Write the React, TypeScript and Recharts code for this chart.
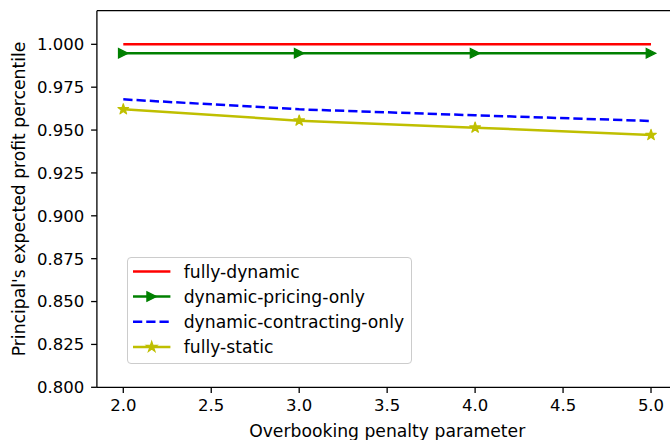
import { LineChart, Line, XAxis, YAxis, Legend, Label, ReferenceLine } from 'recharts'

// overbooking penalty values on the x axis
const penalties = [2, 3, 4, 5]

// principal's expected profit percentile for each policy
const fullyDynamic = [1.0, 1.0, 1.0, 1.0]
const dynamicPricingOnly = [0.9948, 0.9948, 0.9948, 0.9948]
const dynamicContractingOnly = [0.9679, 0.9621, 0.9586, 0.9553]
const fullyStatic = [0.9621, 0.9555, 0.9514, 0.9471]

const xTicks = [2, 2.5, 3, 3.5, 4, 4.5, 5]
const yTicks = [0.8, 0.825, 0.85, 0.875, 0.9, 0.925, 0.95, 0.975, 1.0]

const seriesNames = ['fully-dynamic', 'dynamic-pricing-only', 'dynamic-contracting-only', 'fully-static']

const data = penalties.map((p, i) => ({
  penalty: p,
  fullyDynamic: fullyDynamic[i],
  dynamicPricingOnly: dynamicPricingOnly[i],
  dynamicContractingOnly: dynamicContractingOnly[i],
  fullyStatic: fullyStatic[i],
}))

const Y_MAX = 1.0196
const FONT = "'DejaVu Sans', sans-serif"
const FS = 16.5
const FS_LABEL = 17.2
const RED = '#ff0000'
const GREEN = '#008000'
const BLUE = '#0000ff'
const YELLOW = '#bfbf00'

function triangle(cx: number, cy: number, r = 4.8) {
  return `${cx + r},${cy} ${cx - r},${cy - r} ${cx - r},${cy + r}`
}

function star(cx: number, cy: number, r = 5.6) {
  const inner = r * 0.382
  const pts: string[] = []
  for (let k = 0; k < 10; k++) {
    const rad = k % 2 === 0 ? r : inner
    const a = -Math.PI / 2 + (k * Math.PI) / 5
    pts.push(`${cx + rad * Math.cos(a)},${cy + rad * Math.sin(a)}`)
  }
  return pts.join(' ')
}

const TriangleDot = (props: any) => {
  const { cx, cy, index } = props
  if (cx == null || cy == null) return null
  return <polygon key={`tri-${index}`} points={triangle(cx, cy)} fill={GREEN} stroke={GREEN} strokeWidth={1.2} />
}

const StarDot = (props: any) => {
  const { cx, cy, index } = props
  if (cx == null || cy == null) return null
  return <polygon key={`star-${index}`} points={star(cx, cy)} fill={YELLOW} stroke={YELLOW} strokeWidth={1.2} strokeLinejoin="round" />
}

const LegendBox = () => {
  const rows = [
    { color: RED, dash: undefined, marker: null },
    { color: GREEN, dash: undefined, marker: 'tri' },
    { color: BLUE, dash: '9.25 4', marker: null },
    { color: YELLOW, dash: undefined, marker: 'star' },
  ]
  return (
    <div
      style={{
        width: 285,
        height: 107,
        border: '1px solid #cccccc',
        borderRadius: 4,
        background: 'rgba(255,255,255,0.8)',
        boxSizing: 'border-box',
      }}
    >
      <svg width={285} height={107} style={{ position: 'absolute', left: 0, top: 0 }}>
        {rows.map((r, i) => {
          const y = 14.4 + i * 25.2
          return (
            <g key={i}>
              <line x1={6} x2={43.4} y1={y} y2={y} stroke={r.color} strokeWidth={2.5} strokeDasharray={r.dash} />
              {r.marker === 'tri' && <polygon points={triangle(24.7, y)} fill={GREEN} stroke={GREEN} strokeWidth={1.2} />}
              {r.marker === 'star' && <polygon points={star(24.7, y)} fill={YELLOW} stroke={YELLOW} strokeWidth={1.2} />}
              <text x={56.7} y={y} dy="0.36em" fontFamily={FONT} fontSize={FS_LABEL} fill="#000">
                {seriesNames[i]}
              </text>
            </g>
          )
        })}
      </svg>
    </div>
  )
}

export default function App() {
  return (
    <div style={{ position: 'absolute', left: 0, top: 0, width: 670, height: 440, overflow: 'hidden', background: '#fff', fontFamily: FONT }}>
      <LineChart width={690} height={440} data={data} margin={{ top: 10.7, right: 12.6, bottom: 0, left: 0 }}>
        <XAxis
          dataKey="penalty"
          type="number"
          domain={[1.85, 5.15]}
          ticks={xTicks}
          tickFormatter={(v: number) => v.toFixed(1)}
          height={52.7}
          tickSize={5.8}
          tickMargin={6.5}
          allowDataOverflow
          axisLine={{ stroke: '#000', strokeWidth: 1.3 }}
          tickLine={{ stroke: '#000', strokeWidth: 1.3 }}
          tick={{ fill: '#000', fontSize: FS, fontFamily: FONT }}
        >
          <Label
            content={() => (
              <text x={387.2} y={437} textAnchor="middle" fontFamily={FONT} fontSize={FS_LABEL} fill="#000">
                Overbooking penalty parameter
              </text>
            )}
          />
        </XAxis>
        <YAxis
          type="number"
          domain={[0.8, Y_MAX]}
          ticks={yTicks}
          tickFormatter={(v: number) => v.toFixed(3)}
          width={96.9}
          tickSize={5.8}
          tickMargin={6.8}
          allowDataOverflow
          axisLine={{ stroke: '#000', strokeWidth: 1.3 }}
          tickLine={{ stroke: '#000', strokeWidth: 1.3 }}
          tick={{ fill: '#000', fontSize: FS, fontFamily: FONT }}
        >
          <Label
            content={() => (
              <text
                x={24.5}
                y={199}
                textAnchor="middle"
                transform="rotate(-90, 24.5, 199)"
                fontFamily={FONT}
                fontSize={FS_LABEL}
                fill="#000"
              >
                Principal's expected profit percentile
              </text>
            )}
          />
        </YAxis>
        {/* top spine */}
        <ReferenceLine y={Y_MAX} stroke="#000" strokeWidth={1.3} ifOverflow="visible" />
        <Line dataKey="fullyDynamic" name={seriesNames[0]} stroke={RED} strokeWidth={2.5} dot={false} activeDot={false} isAnimationActive={false} />
        <Line dataKey="dynamicPricingOnly" name={seriesNames[1]} stroke={GREEN} strokeWidth={2.5} dot={TriangleDot} activeDot={false} isAnimationActive={false} />
        <Line dataKey="dynamicContractingOnly" name={seriesNames[2]} stroke={BLUE} strokeWidth={2.5} strokeDasharray="9.25 4" dot={false} activeDot={false} isAnimationActive={false} />
        <Line dataKey="fullyStatic" name={seriesNames[3]} stroke={YELLOW} strokeWidth={2.5} dot={StarDot} activeDot={false} isAnimationActive={false} />
        <Legend
          layout="vertical"
          align="center"
          verticalAlign="middle"
          wrapperStyle={{ left: 127.3, top: 257.3, width: 285, height: 107 }}
          content={() => <LegendBox />}
        />
      </LineChart>
    </div>
  )
}
